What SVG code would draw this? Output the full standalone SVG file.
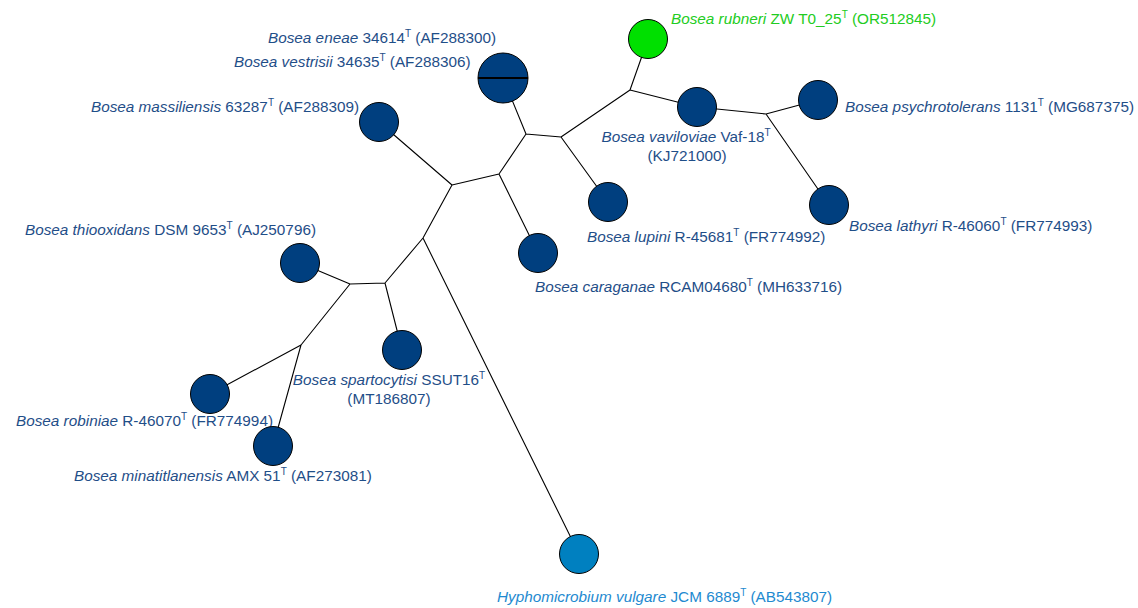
<svg xmlns="http://www.w3.org/2000/svg" width="1138" height="608" viewBox="0 0 1138 608">
<style>
.e{stroke:#000;stroke-width:1.1;fill:none}
.n{fill:#003f7f;stroke:#000;stroke-width:1}
.t{font-family:"Liberation Sans",Arial,sans-serif;font-size:15.3px;fill:#1f4e88}
.g{fill:#22cc22}
.h{fill:#1e8ad0}
.i{font-style:italic}
.s{font-size:10px}
</style>
<rect width="1138" height="608" fill="#fff"/>
<g id="connectors">
<path class="e" d="M648,39L630,90M630,90L697,107M630,90L561,137M697,107L766,114M766,114L818,100M766,114L829,205M561,137L526,134M561,137L608,202M526,134L503,78M526,134L499,174M499,174L452,185M499,174L538,253M452,185L379,122M452,185L423,238M423,238L385,283M423,238L579,554M385,283L350,284M385,283L402,350M350,284L300,263M350,284L301,345M301,345L210,394M301,345L273,446"/>
</g>
<g id="rubneri"><circle class="n" cx="648" cy="39" r="19.5" style="fill:#00e000"/><text class="t g" x="671" y="24"><tspan class="i">Bosea rubneri</tspan> ZW T0_25<tspan class="s" dy="-6">T</tspan><tspan dy="6"> (OR512845)</tspan></text></g>
<g id="vaviloviae"><circle class="n" cx="697" cy="107" r="19.5"/><text class="t" x="686" y="142" text-anchor="middle"><tspan class="i">Bosea vaviloviae</tspan> Vaf-18<tspan class="s" dy="-6">T</tspan></text><text class="t" x="687" y="161" text-anchor="middle">(KJ721000)</text></g>
<g id="psychrotolerans"><circle class="n" cx="818" cy="100" r="19.5"/><text class="t" x="845" y="112"><tspan class="i">Bosea psychrotolerans</tspan> 1131<tspan class="s" dy="-6">T</tspan><tspan dy="6"> (MG687375)</tspan></text></g>
<g id="lathyri"><circle class="n" cx="829" cy="205" r="19.5"/><text class="t" x="849" y="231"><tspan class="i">Bosea lathyri</tspan> R-46060<tspan class="s" dy="-6">T</tspan><tspan dy="6"> (FR774993)</tspan></text></g>
<g id="eneae-vestrisii"><circle class="n" cx="503" cy="78" r="25"/><line x1="478" y1="78" x2="528" y2="78" stroke="#000" stroke-width="2"/><text class="t" x="268" y="43"><tspan class="i">Bosea eneae</tspan> 34614<tspan class="s" dy="-6">T</tspan><tspan dy="6"> (AF288300)</tspan></text><text class="t" x="234" y="67"><tspan class="i">Bosea vestrisii</tspan> 34635<tspan class="s" dy="-6">T</tspan><tspan dy="6"> (AF288306)</tspan></text></g>
<g id="massiliensis"><circle class="n" cx="379" cy="122" r="19.5"/><text class="t" x="91" y="112"><tspan class="i">Bosea massiliensis</tspan> 63287<tspan class="s" dy="-6">T</tspan><tspan dy="6"> (AF288309)</tspan></text></g>
<g id="lupini"><circle class="n" cx="608" cy="202" r="19.5"/><text class="t" x="587" y="242"><tspan class="i">Bosea lupini</tspan> R-45681<tspan class="s" dy="-6">T</tspan><tspan dy="6"> (FR774992)</tspan></text></g>
<g id="caraganae"><circle class="n" cx="538" cy="253" r="19.5"/><text class="t" x="535" y="292"><tspan class="i">Bosea caraganae</tspan> RCAM04680<tspan class="s" dy="-6">T</tspan><tspan dy="6"> (MH633716)</tspan></text></g>
<g id="thiooxidans"><circle class="n" cx="300" cy="263" r="19.5"/><text class="t" x="25" y="235"><tspan class="i">Bosea thiooxidans</tspan> DSM 9653<tspan class="s" dy="-6">T</tspan><tspan dy="6"> (AJ250796)</tspan></text></g>
<g id="spartocytisi"><circle class="n" cx="402" cy="350" r="19.5"/><text class="t" x="389" y="385" text-anchor="middle"><tspan class="i">Bosea spartocytisi</tspan> SSUT16<tspan class="s" dy="-6">T</tspan></text><text class="t" x="389" y="404" text-anchor="middle">(MT186807)</text></g>
<g id="robiniae"><circle class="n" cx="210" cy="394" r="19.5"/><text class="t" x="16" y="426"><tspan class="i">Bosea robiniae</tspan> R-46070<tspan class="s" dy="-6">T</tspan><tspan dy="6"> (FR774994)</tspan></text></g>
<g id="minatitlanensis"><circle class="n" cx="273" cy="446" r="19.5"/><text class="t" x="74" y="481"><tspan class="i">Bosea minatitlanensis</tspan> AMX 51<tspan class="s" dy="-6">T</tspan><tspan dy="6"> (AF273081)</tspan></text></g>
<g id="hyphomicrobium"><circle class="n" cx="579" cy="554" r="19.5" style="fill:#0080c0"/><text class="t h" x="497" y="602"><tspan class="i">Hyphomicrobium vulgare</tspan> JCM 6889<tspan class="s" dy="-6">T</tspan><tspan dy="6"> (AB543807)</tspan></text></g>
</svg>
